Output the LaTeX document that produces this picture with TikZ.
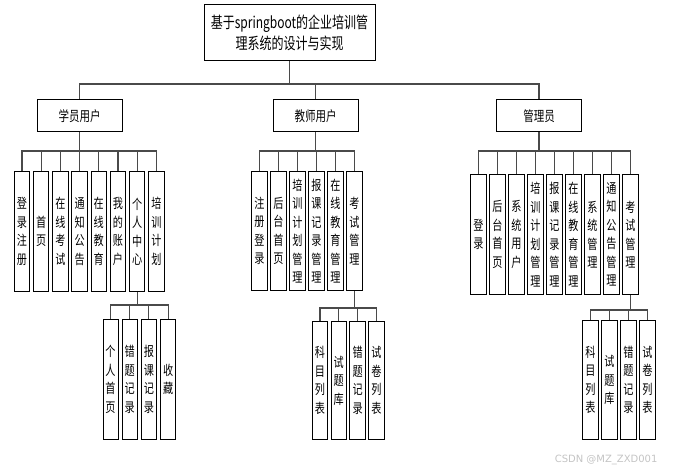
\documentclass[tikz,border=0pt]{standalone}
\usepackage{fontspec}
\setmainfont{Noto Sans CJK SC}[FakeStretch=0.75]
\newfontfamily\markfont{DejaVu Sans}
\usetikzlibrary{positioning, calc}
\definecolor{wire}{HTML}{4A4A4A}
\definecolor{mark}{HTML}{C4C4C4}

\tikzset{
  rootbox/.style={draw=black, line width=1pt, minimum width=171pt, minimum height=56pt, inner sep=0pt, align=center, font=\fontsize{16}{21}\selectfont},
  rolebox/.style={draw=black, line width=1pt, minimum width=85pt, minimum height=32pt, inner sep=0pt, font=\fontsize{14}{16}\selectfont},
  leafbox/.style={draw=black, line width=1pt, minimum width=15.5pt, minimum height=120pt, inner sep=0pt, anchor=north, align=center, font=\fontsize{13.5}{18.5}\selectfont},
  link/.style={draw=wire, line width=1.1pt}
}

\begin{document}
\begin{tikzpicture}[x=1pt, y=-1pt]
  \useasboundingbox (0,0) rectangle (674,473);
  \node[rootbox] (root) at (289.5,33) {基于springboot的企业培训管\\理系统的设计与实现};
  \coordinate (topbus) at (0,84);
  \node[rolebox] (stu) at (79.5,116) {学员用户};
  \node[rolebox] (tea) at (315.5,116) {教师用户};
  \node[rolebox] (adm) at (539,116) {管理员};
  \foreach \r in {stu, tea, adm}
    \draw[link] (root.south) |- (topbus -| \r.north) -- (\r.north);

  % student leaves
  \coordinate (stubus) at (0,151);
  \foreach \t [count=\i from 0] in {登\\录\\注\\册, 首\\页, 在\\线\\考\\试, 通\\知\\公\\告, 在\\线\\教\\育, 我\\的\\账\\户, 个\\人\\中\\心, 培\\训\\计\\划} {
    \node[leafbox] (stu\i) at (22+19.2*\i,171) {\t};
    \draw[link] (stu.south) |- (stubus -| stu\i.north) -- (stu\i.north);
  }
  \coordinate (stusubbus) at (0,305);
  \foreach \t [count=\i from 0] in {个\\人\\首\\页, 错\\题\\记\\录, 报\\课\\记\\录, 收\\藏} {
    \node[leafbox, minimum width=15pt] (stusub\i) at (110.5+19.2*\i,319) {\t};
    \draw[link] (stu6.south) |- (stusubbus -| stusub\i.north) -- (stusub\i.north);
  }

  % teacher leaves
  \coordinate (teabus) at (0,151);
  \foreach \t [count=\i from 0] in {注\\册\\登\\录, 后\\台\\首\\页, 培\\训\\计\\划\\管\\理, 报\\课\\记\\录\\管\\理, 在\\线\\教\\育\\管\\理, 考\\试\\管\\理} {
    \node[leafbox, minimum height=119pt] (tea\i) at (259.5+19*\i,171) {\t};
    \draw[link] (tea.south) |- (teabus -| tea\i.north) -- (tea\i.north);
  }
  \coordinate (teasubbus) at (0,308);
  \foreach \t [count=\i from 0] in {科\\目\\列\\表, 试\\题\\库, 错\\题\\记\\录, 试\\卷\\列\\表} {
    \node[leafbox, minimum height=118pt] (teasub\i) at (320+18.8*\i,321) {\t};
    \draw[link] (tea5.south) |- (teasubbus -| teasub\i.north) -- (teasub\i.north);
  }

  % admin leaves
  \coordinate (admbus) at (0,151);
  \foreach \t [count=\i from 0] in {登\\录, 后\\台\\首\\页, 系\\统\\用\\户, 培\\训\\计\\划\\管\\理, 报\\课\\记\\录\\管\\理, 在\\线\\教\\育\\管\\理, 系\\统\\管\\理, 通\\知\\公\\告\\管\\理, 考\\试\\管\\理} {
    \node[leafbox] (adm\i) at (478.5+19*\i,174) {\t};
    \draw[link] (adm.south) |- (admbus -| adm\i.north) -- (adm\i.north);
  }
  \coordinate (admsubbus) at (0,310);
  \foreach \t [count=\i from 0] in {科\\目\\列\\表, 试\\题\\库, 错\\题\\记\\录, 试\\卷\\列\\表} {
    \node[leafbox, minimum height=119pt] (admsub\i) at (590.5+19*\i,320) {\t};
    \draw[link] (adm8.south) |- (admsubbus -| admsub\i.north) -- (admsub\i.north);
  }

  \node[anchor=east, text=mark, font=\markfont\fontsize{10}{12}\selectfont] (wm) at (661,460) {CSDN @MZ\_ZXD001};
\end{tikzpicture}
\end{document}
